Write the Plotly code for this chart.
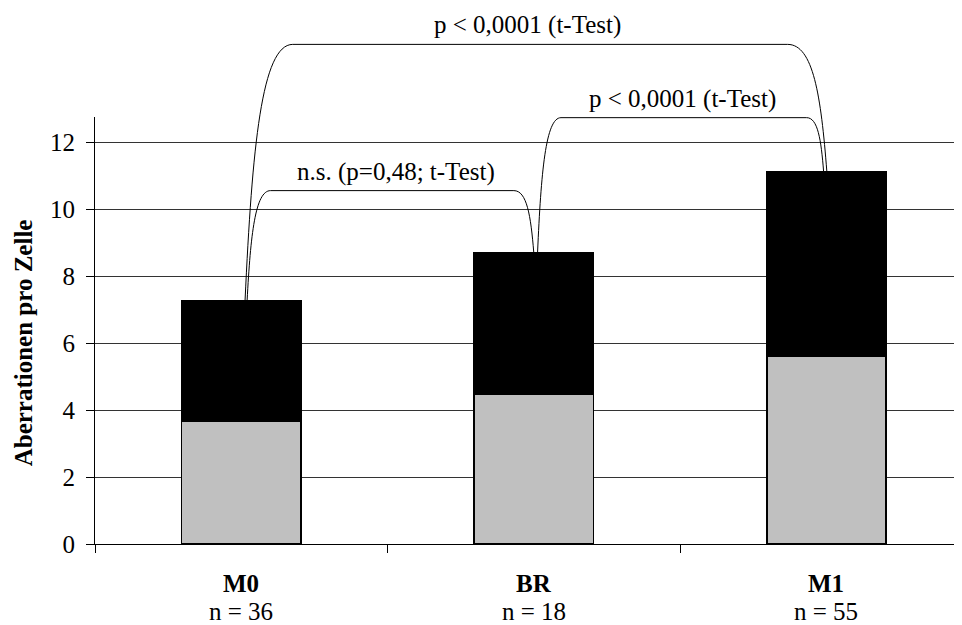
import plotly.graph_objects as go

# ---- data ----
categories = ["M0", "BR", "M1"]
n_values = [36, 18, 55]
lower_values = [3.68, 4.47, 5.62]   # grey segment
upper_values = [3.60, 4.24, 5.50]   # black segment
y_ticks = [0, 2, 4, 6, 8, 10, 12]

comparison_pairs = [(0, 1), (1, 2), (0, 2)]
comparison_labels = ["n.s. (p=0,48; t-Test)", "p < 0,0001 (t-Test)", "p < 0,0001 (t-Test)"]
bracket_levels = [10.56, 12.74, 14.93]

# ---- styling ----
FONT = "Liberation Serif, Times New Roman, serif"
YMAX = 12.76
XRANGE = [-0.5, 2.464]
BAR_WIDTH = 0.407
PLOT_H = 427  # plot-area height in px
PLOT_W = 867
# the page body adds an 8px margin, so the figure is 8px smaller on each side
FIG_W, FIG_H = 954, 617
# (left foot offset, right foot offset, left corner, right corner, label x offset)
bracket_style = [
    (0.02, 0.0, 0.08, 0.068, 0.03),
    (0.013, -0.009, 0.08, 0.058, 0.01),
    (0.013, 0.002, 0.163, 0.134, -0.02),
]

x_pos = list(range(len(categories)))
totals = [a + b for a, b in zip(lower_values, upper_values)]

fig = go.Figure()
fig.add_bar(x=x_pos, y=lower_values, width=BAR_WIDTH,
            marker=dict(color="#C0C0C0", line=dict(color="black", width=1.5)),
            showlegend=False, hoverinfo="skip")
fig.add_bar(x=x_pos, y=upper_values, width=BAR_WIDTH,
            marker=dict(color="black", line=dict(color="black", width=1.5)),
            showlegend=False, hoverinfo="skip")


def p(v):
    return v / YMAX


shapes = []
annotations = []
for (i, j), label, level, (fl, fr, rl, rr, lx) in zip(comparison_pairs, comparison_labels,
                                                       bracket_levels, bracket_style):
    xl, xr = x_pos[i] + fl, x_pos[j] + fr
    yl, yr, yt = p(totals[i]), p(totals[j]), p(level)
    path = (
        f"M {xl},{yl} "
        f"C {xl + 0.15 * rl},{yl + 0.6 * (yt - yl)} {xl + 0.35 * rl},{yt} {xl + rl},{yt} "
        f"L {xr - rr},{yt} "
        f"C {xr - 0.35 * rr},{yt} {xr - 0.15 * rr},{yr + 0.6 * (yt - yr)} {xr},{yr}"
    )
    shapes.append(dict(type="path", path=path, xref="x", yref="paper",
                       line=dict(color="black", width=1), layer="above"))
    annotations.append(dict(x=(x_pos[i] + x_pos[j]) / 2 + lx, y=yt, xref="x", yref="paper",
                            text=label, showarrow=False, yanchor="bottom", yshift=3,
                            font=dict(family=FONT, size=25, color="black")))

# category labels below the axis (two lines each)
for xc, c, n in zip(x_pos, categories, n_values):
    annotations.append(dict(x=xc, y=-39 / PLOT_H, xref="x", yref="paper",
                            text=f"<b>{c}</b>", showarrow=False,
                            xanchor="center", yanchor="middle",
                            font=dict(family=FONT, size=25, color="black")))
    annotations.append(dict(x=xc, y=-67 / PLOT_H, xref="x", yref="paper",
                            text=f"n = {n}", showarrow=False,
                            xanchor="center", yanchor="middle",
                            font=dict(family=FONT, size=25, color="black")))

# y-axis title
annotations.append(dict(text="<b>Aberrationen pro Zelle</b>", textangle=-90,
                        xref="paper", yref="paper", x=-72 / PLOT_W, y=0.47,
                        xanchor="center", yanchor="middle", showarrow=False,
                        font=dict(family=FONT, size=25, color="black")))

fig.update_layout(
    width=FIG_W, height=FIG_H,
    margin=dict(l=87, r=0, t=109, b=81),
    paper_bgcolor="white", plot_bgcolor="white",
    barmode="stack",
    font=dict(family=FONT, size=25, color="black"),
    shapes=shapes, annotations=annotations,
    xaxis=dict(
        range=XRANGE, tickmode="array", tickvals=x_pos, showticklabels=False,
        ticks="", showgrid=False, zeroline=False,
        showline=True, linecolor="black", linewidth=1,
        minor=dict(tickmode="array", tickvals=[-0.5, 0.5, 1.5], ticks="outside",
                   ticklen=8, tickcolor="black", tickwidth=1, showgrid=False),
    ),
    yaxis=dict(
        range=[0, YMAX], tickmode="array", tickvals=y_ticks,
        ticks="outside", ticklen=8, tickcolor="black", tickwidth=1,
        showline=True, linecolor="black", linewidth=1,
        showgrid=True, gridcolor="#333333", gridwidth=1, zeroline=False,
        ticklabelstandoff=6,
        tickfont=dict(family=FONT, size=25, color="black"),
    ),
)

fig.write_html("out.html")
